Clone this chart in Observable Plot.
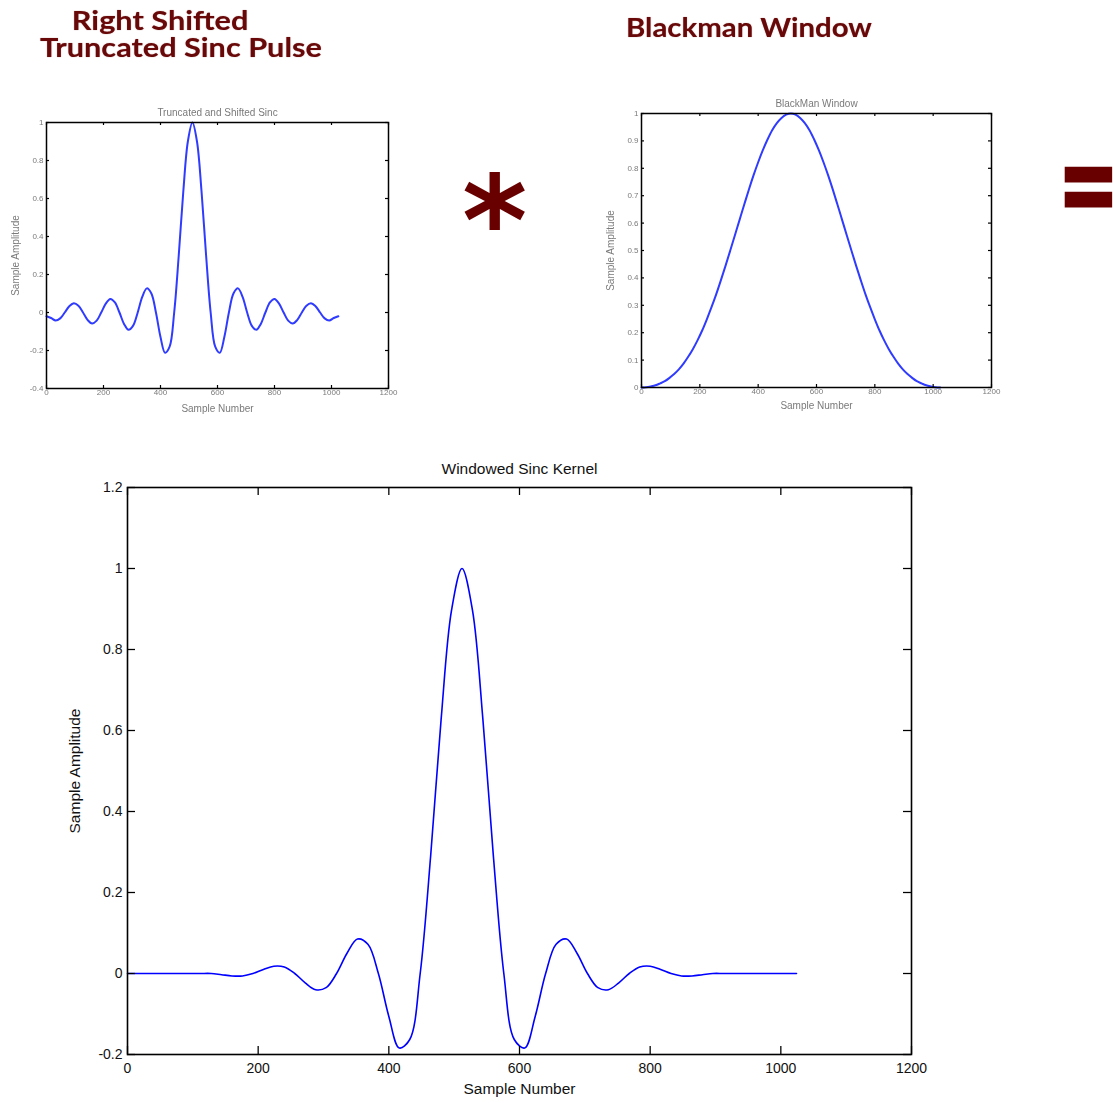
<!DOCTYPE html>
<html>
<head>
<meta charset="utf-8">
<script src="https://cdn.jsdelivr.net/npm/d3@7"></script>
<script src="https://cdn.jsdelivr.net/npm/@observablehq/plot@0.6"></script>
<style>
  html, body { margin: 0; padding: 0; background: #fff; }
  #page { position: relative; width: 1113px; height: 1103px; overflow: hidden; background: #fff; }
  .head {
    position: absolute; white-space: pre;
    font-family: Lato, "Open Sans", sans-serif; font-weight: 700;
    font-size: 26px; line-height: 27px; color: #680808;
    text-shadow: 0 0 1px rgba(104, 8, 8, 0.55);
    transform-origin: 0 0;
  }
  .sym {
    position: absolute; white-space: nowrap;
    font-family: "DejaVu Sans", sans-serif; font-weight: 700; color: #680000;
    transform-origin: 0 0;
  }
  .panel { position: absolute; }
  .soft { filter: blur(0.45px); }
</style>
</head>
<body>
<div id="page">
  <div class="head" style="left:40px; top:7px; transform:scaleX(1.18); text-indent:27px;">Right Shifted
Truncated Sinc Pulse</div>
  <div class="head" style="left:626px; top:14px; transform:scaleX(1.13);">Blackman Window</div>
  <div class="sym" style="left:462px; top:159px; font-size:125px; line-height:125px;">*</div>
  <div class="sym" style="left:1058px; top:129px; font-size:110px; line-height:110px; letter-spacing:-30px; transform:scaleX(0.66); -webkit-text-stroke:3px #680000;">=</div>
  <div class="panel soft" id="sinc" style="left:0px; top:90px;"></div>
  <div class="panel soft" id="window" style="left:595px; top:80px;"></div>
  <div class="panel" id="kernel" style="left:0px; top:440px;"></div>
</div>
<script>
// Sample index n (every 16th sample of a 1025-sample kernel)
const sampleNumber = [
  0, 16, 32, 48, 64, 80, 96, 112, 128, 144, 160, 176, 192, 208, 224, 240,
  256, 272, 288, 304, 320, 336, 352, 368, 384, 400, 416, 432, 448, 464, 480, 496,
  512, 528, 544, 560, 576, 592, 608, 624, 640, 656, 672, 688, 704, 720, 736, 752,
  768, 784, 800, 816, 832, 848, 864, 880, 896, 912, 928, 944, 960, 976, 992, 1008, 1024
];

// Truncated sinc pulse, centred on sample 512
const sincAmplitude = [
  -0.020, -0.029, -0.042, -0.031, 0.000, 0.033, 0.049, 0.036, 0.000, -0.039, -0.058, -0.043, 0.000, 0.047, 0.071, 0.053,
  0.000, -0.060, -0.091, -0.069, 0.000, 0.082, 0.127, 0.100, 0.000, -0.129, -0.212, -0.180, 0.000, 0.300, 0.637, 0.900,
  1.000, 0.900, 0.637, 0.300, 0.000, -0.180, -0.212, -0.129, 0.000, 0.100, 0.127, 0.082, 0.000, -0.069, -0.091, -0.060,
  0.000, 0.053, 0.071, 0.047, 0.000, -0.043, -0.058, -0.039, 0.000, 0.036, 0.049, 0.033, 0.000, -0.031, -0.042, -0.029, -0.020
];

// Blackman window over the same samples
const blackmanAmplitude = [
  0.000, 0.001, 0.004, 0.008, 0.015, 0.023, 0.035, 0.049, 0.066, 0.087, 0.112, 0.140, 0.172, 0.208, 0.249, 0.293,
  0.340, 0.391, 0.444, 0.499, 0.555, 0.611, 0.667, 0.722, 0.774, 0.822, 0.866, 0.905, 0.939, 0.965, 0.984, 0.996,
  1.000, 0.996, 0.984, 0.965, 0.939, 0.905, 0.866, 0.822, 0.774, 0.722, 0.667, 0.611, 0.555, 0.499, 0.444, 0.391,
  0.340, 0.293, 0.249, 0.208, 0.172, 0.140, 0.112, 0.087, 0.066, 0.049, 0.035, 0.023, 0.015, 0.008, 0.004, 0.001, 0.000
];

// Windowed sinc kernel (sinc pulse times Blackman window)
const kernelAmplitude = [
  0.000, 0.000, 0.000, 0.000, 0.000, 0.000, 0.000, 0.000, 0.000, -0.003, -0.006, -0.006, 0.000, 0.010, 0.018, 0.016,
  0.000, -0.023, -0.040, -0.035, 0.000, 0.050, 0.085, 0.072, 0.000, -0.106, -0.184, -0.163, 0.000, 0.290, 0.627, 0.897,
  1.000, 0.897, 0.627, 0.290, 0.000, -0.163, -0.184, -0.106, 0.000, 0.072, 0.085, 0.050, 0.000, -0.035, -0.040, -0.023,
  0.000, 0.016, 0.018, 0.010, 0.000, -0.006, -0.006, -0.003, 0.000, 0.000, 0.000, 0.000, 0.000, 0.000, 0.000, 0.000, 0.000
];

// Axis ticks
const sampleTicks = [0, 200, 400, 600, 800, 1000, 1200];
const sincTicks = [-0.4, -0.2, 0, 0.2, 0.4, 0.6, 0.8, 1];
const windowTicks = [0, 0.1, 0.2, 0.3, 0.4, 0.5, 0.6, 0.7, 0.8, 0.9, 1];
const kernelTicks = [-0.2, 0, 0.2, 0.4, 0.6, 0.8, 1, 1.2];

const titles = {
  sinc: "Truncated and Shifted Sinc",
  window: "BlackMan Window",
  kernel: "Windowed Sinc Kernel"
};
const xLabel = "Sample Number";
const yLabel = "Sample Amplitude";

function series(values) {
  return sampleNumber.map((n, i) => ({n, v: values[i]}));
}

// A boxed plot with inward ticks on all four sides
function boxPlot({values, yDomain, yTicks, title, width, height, margin, font, labelFont, textColor,
                  frameWidth, tickLen, lineColor, lineWidth, titleDy, xLabelDy, yLabelDx, tickPadX, tickPadY}) {
  const plotW = width - margin.left - margin.right;
  const plotH = height - margin.top - margin.bottom;
  const fmt = d => String(d);
  return Plot.plot({
    width, height,
    marginLeft: margin.left, marginRight: margin.right,
    marginTop: margin.top, marginBottom: margin.bottom,
    x: {domain: [0, 1200]},
    y: {domain: yDomain},
    style: {fontFamily: "'Liberation Sans', Arial, sans-serif", fontSize: font + "px", color: textColor, background: "transparent", overflow: "visible"},
    marks: [
      Plot.line(series(values), {x: "n", y: "v", stroke: lineColor, strokeWidth: lineWidth, curve: "catmull-rom"}),
      Plot.tickX(sampleTicks, {x: d => d, insetTop: plotH - tickLen, stroke: "#000", strokeWidth: frameWidth * 0.8}),
      Plot.tickX(sampleTicks, {x: d => d, insetBottom: plotH - tickLen, stroke: "#000", strokeWidth: frameWidth * 0.8}),
      Plot.tickY(yTicks, {y: d => d, insetRight: plotW - tickLen, stroke: "#000", strokeWidth: frameWidth * 0.8}),
      Plot.tickY(yTicks, {y: d => d, insetLeft: plotW - tickLen, stroke: "#000", strokeWidth: frameWidth * 0.8}),
      Plot.frame({stroke: "#000", strokeWidth: frameWidth}),
      Plot.axisX(sampleTicks, {tickSize: 0, tickPadding: tickPadX, tickFormat: fmt, label: null, fill: textColor}),
      Plot.axisY(yTicks, {tickSize: 0, tickPadding: tickPadY, tickFormat: fmt, label: null, fill: textColor}),
      Plot.text([title], {frameAnchor: "top", dy: titleDy, fill: textColor, fontSize: labelFont}),
      Plot.text([xLabel], {frameAnchor: "bottom", dy: xLabelDy, fill: textColor, fontSize: labelFont}),
      Plot.text([yLabel], {frameAnchor: "left", textAnchor: "middle", dx: yLabelDx, rotate: -90, fill: textColor, fontSize: labelFont})
    ]
  });
}

document.getElementById("sinc").append(boxPlot({
  values: sincAmplitude, yDomain: [-0.4, 1], yTicks: sincTicks, title: titles.sinc,
  width: 420, height: 340, margin: {left: 46, right: 32, top: 32, bottom: 42},
  font: 8, labelFont: 10, textColor: "#7a7a7a", frameWidth: 1.5, tickLen: 3,
  lineColor: "#2f3bff", lineWidth: 2, titleDy: -14, xLabelDy: 23, yLabelDx: -31, tickPadX: 1, tickPadY: 3
}));

document.getElementById("window").append(boxPlot({
  values: blackmanAmplitude, yDomain: [0, 1], yTicks: windowTicks, title: titles.window,
  width: 420, height: 340, margin: {left: 46, right: 24, top: 33, bottom: 33},
  font: 8, labelFont: 10, textColor: "#7a7a7a", frameWidth: 1.5, tickLen: 3,
  lineColor: "#2f3bff", lineWidth: 2, titleDy: -14, xLabelDy: 21, yLabelDx: -31, tickPadX: 1, tickPadY: 3
}));

document.getElementById("kernel").append(boxPlot({
  values: kernelAmplitude, yDomain: [-0.2, 1.2], yTicks: kernelTicks, title: titles.kernel,
  width: 1113, height: 663, margin: {left: 127, right: 202, top: 47, bottom: 49},
  font: 14, labelFont: 15.5, textColor: "#111", frameWidth: 1.6, tickLen: 8,
  lineColor: "#0000ff", lineWidth: 1.6, titleDy: -25, xLabelDy: 39, yLabelDx: -52, tickPadX: 9, tickPadY: 5
}));
</script>
</body>
</html>
